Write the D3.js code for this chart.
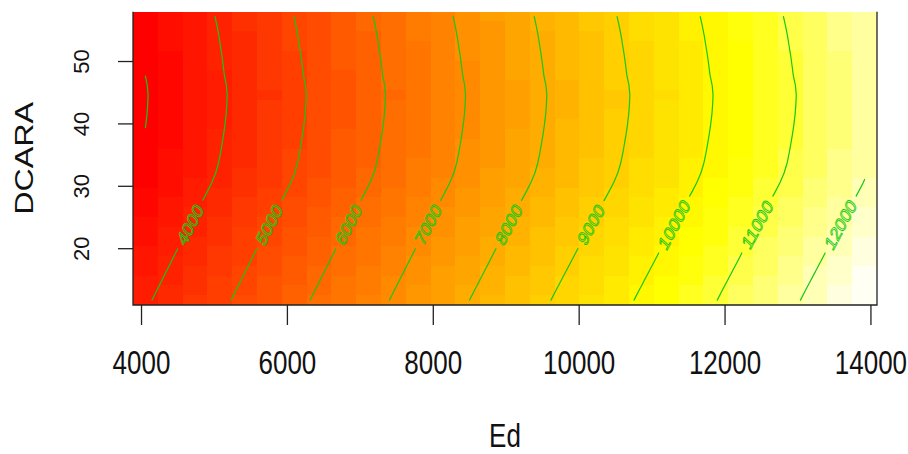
<!DOCTYPE html>
<html>
<head>
<meta charset="utf-8">
<script src="https://cdn.jsdelivr.net/npm/d3@7"></script>
<style>
  body { margin: 0; background: #fff; }
  text { font-family: "Liberation Sans", Arial, sans-serif; }
</style>
</head>
<body>
<svg id="chart" width="908" height="454"></svg>
<script>
// grid of the fitted surface (vis.gam style, 30 x 30)
const edGrid = [4060, 4400, 4740, 5080, 5420, 5760, 6100, 6440, 6780, 7120,
  7460, 7800, 8140, 8480, 8820, 9160, 9500, 9840, 10180, 10520,
  10860, 11200, 11540, 11880, 12220, 12560, 12900, 13240, 13580, 13920];
const dcaraGrid = [11.68, 13.25, 14.81, 16.38, 17.95, 19.51, 21.08, 22.65, 24.21, 25.78,
  27.35, 28.91, 30.48, 32.05, 33.61, 35.18, 36.75, 38.31, 39.88, 41.45,
  43.01, 44.58, 46.15, 47.71, 49.28, 50.85, 52.41, 53.98, 55.55, 57.12];

// fitted value along Ed (at the DCARA minimum) and the DCARA shift added to it
const fitByEd = [2965, 3278, 3592, 3905, 4219, 4533, 4847, 5160, 5473, 5786,
  6098, 6408, 6718, 7027, 7332, 7638, 7943, 8243, 8541, 8839,
  9138, 9436, 9734, 10032, 10330, 10628, 10926, 11224, 11522, 11820];
const dcaraShift = [951, 890, 828, 766, 704, 643, 580, 517, 453, 389,
  324, 259, 197, 147, 112, 87, 66, 46, 29, 15,
  6, 1, 12, 37, 52, 68, 87, 106, 129, 155];

const contourLevels = [3000, 4000, 5000, 6000, 7000, 8000, 9000, 10000, 11000, 12000];
const xTicks = [4000, 6000, 8000, 10000, 12000, 14000];
const yTicks = [20, 30, 40, 50];

const labelDcara = 23.8;
const stretch = 1.29;   // the picture is a bit taller than wide

var svg = d3.select("#chart"),
    plot = {left: 133, right: 877, top: 11.7, bottom: 305};

var halfEd = (edGrid[1] - edGrid[0]) / 2,
    halfDc = (dcaraGrid[1] - dcaraGrid[0]) / 2;

var x = d3.scaleLinear()
  .domain([edGrid[0] - halfEd, edGrid[edGrid.length - 1] + halfEd])
  .range([plot.left, plot.right]);
var y = d3.scaleLinear()
  .domain([dcaraGrid[0] - halfDc, dcaraGrid[dcaraGrid.length - 1] + halfDc])
  .range([plot.bottom, plot.top]);

// z[i][j]
var z = edGrid.map((e, i) => dcaraGrid.map((d, j) => fitByEd[i] + dcaraShift[j]));
var zAll = z.flat();
var zMin = d3.min(zAll), zMax = d3.max(zAll);

// R's heat.colors(n)
function hsv(h, s, v) {
  var i = Math.floor(h * 6), f = h * 6 - i,
      p = v * (1 - s), q = v * (1 - f * s), t = v * (1 - (1 - f) * s), r, g, b;
  switch (((i % 6) + 6) % 6) {
    case 0: r = v; g = t; b = p; break;
    case 1: r = q; g = v; b = p; break;
    case 2: r = p; g = v; b = t; break;
    case 3: r = p; g = q; b = v; break;
    case 4: r = t; g = p; b = v; break;
    default: r = v; g = p; b = q;
  }
  return d3.rgb(r * 255, g * 255, b * 255).formatHex();
}
function heatColors(n) {
  var j = Math.floor(n / 4), i = n - j, cols = [];
  for (var k = 0; k < i; k++) cols.push(hsv(i > 1 ? k / (i - 1) / 6 : 0, 1, 1));
  var s0 = 1 - 1 / (2 * j), s1 = 1 / (2 * j);
  for (var k = 0; k < j; k++) cols.push(hsv(1 / 6, j > 1 ? s0 + k * (s1 - s0) / (j - 1) : s0, 1));
  return cols;
}
var pal = heatColors(50);
function colorOf(v) {
  var k = Math.floor((pal.length - 1e-5) * (v - zMin) / (zMax - zMin) + 1e-7);
  return pal[Math.max(0, Math.min(pal.length - 1, k))];
}

// cell edges
function edges(grid, half) {
  return grid.map((g, i) => [
    i === 0 ? g - half : (grid[i - 1] + g) / 2,
    i === grid.length - 1 ? g + half : (g + grid[i + 1]) / 2
  ]);
}
var edEdges = edges(edGrid, halfEd), dcEdges = edges(dcaraGrid, halfDc);

var cells = [];
edGrid.forEach((e, i) => dcaraGrid.forEach((d, j) => cells.push({i: i, j: j, z: z[i][j]})));

svg.append("g")
  .attr("shape-rendering", "crispEdges")
  .selectAll("rect")
  .data(cells)
  .enter().append("rect")
    .attr("x", d => x(edEdges[d.i][0]))
    .attr("width", d => x(edEdges[d.i][1]) - x(edEdges[d.i][0]))
    .attr("y", d => y(dcEdges[d.j][1]))
    .attr("height", d => y(dcEdges[d.j][0]) - y(dcEdges[d.j][1]))
    .attr("fill", d => colorOf(d.z));

// marching squares on the grid
function contourSegments(L) {
  var segs = [];
  for (var i = 0; i < edGrid.length - 1; i++) {
    for (var j = 0; j < dcaraGrid.length - 1; j++) {
      var c = [[i, j], [i + 1, j], [i + 1, j + 1], [i, j + 1]], pts = [];
      for (var k = 0; k < 4; k++) {
        var p = c[k], q = c[(k + 1) % 4];
        var zp = z[p[0]][p[1]], zq = z[q[0]][q[1]];
        if ((zp >= L) !== (zq >= L)) {
          var t = (L - zp) / (zq - zp);
          pts.push([edGrid[p[0]] + t * (edGrid[q[0]] - edGrid[p[0]]),
                    dcaraGrid[p[1]] + t * (dcaraGrid[q[1]] - dcaraGrid[p[1]])]);
        }
      }
      if (pts.length >= 2) segs.push([pts[0], pts[1]]);
      if (pts.length === 4) segs.push([pts[2], pts[3]]);
    }
  }
  return segs;
}

// where a level crosses a given DCARA
function crossing(L, dc) {
  var j = d3.bisectRight(dcaraGrid, dc) - 1;
  if (j < 0 || j >= dcaraGrid.length - 1) return null;
  var t = (dc - dcaraGrid[j]) / (dcaraGrid[j + 1] - dcaraGrid[j]);
  var row = z.map(col => col[j] * (1 - t) + col[j + 1] * t);
  for (var i = 0; i < row.length - 1; i++) {
    if ((row[i] >= L) !== (row[i + 1] >= L)) {
      return edGrid[i] + (L - row[i]) / (row[i + 1] - row[i]) * (edGrid[i + 1] - edGrid[i]);
    }
  }
  return null;
}

var labels = [];
contourLevels.forEach(L => {
  var e = crossing(L, labelDcara),
      e1 = crossing(L, labelDcara - 2),
      e2 = crossing(L, labelDcara + 2);
  if (e == null || e1 == null || e2 == null) return;
  var dx = x(e2) - x(e1), dy = (y(labelDcara + 2) - y(labelDcara - 2)) / stretch;
  if (dx < 0) { dx = -dx; dy = -dy; }
  labels.push({
    level: L,
    cx: x(e), cy: y(labelDcara),
    angle: Math.atan2(dy, dx) * 180 / Math.PI
  });
});
function labelTransform(d) {
  return "translate(" + d.cx + "," + d.cy + ") scale(1," + stretch + ") rotate(" + d.angle + ")";
}

var defs = svg.append("defs");
defs.append("clipPath").attr("id", "plotclip")
  .append("rect")
    .attr("x", plot.left).attr("y", plot.top)
    .attr("width", plot.right - plot.left).attr("height", plot.bottom - plot.top);

var mask = defs.append("mask").attr("id", "gaps")
  .attr("maskUnits", "userSpaceOnUse")
  .attr("x", 0).attr("y", 0).attr("width", 908).attr("height", 454);
mask.append("rect").attr("width", 908).attr("height", 454).attr("fill", "#fff");

var labelSize = 15.5;
mask.selectAll(".gap")
  .data(labels)
  .enter().append("rect")
    .attr("class", "gap")
    .attr("transform", labelTransform)
    .attr("x", d => -(String(d.level).length * 0.556 * labelSize) / 2 - 5)
    .attr("width", d => String(d.level).length * 0.556 * labelSize + 10)
    .attr("y", -8).attr("height", 16)
    .attr("fill", "#000");

var lineColor = "#14c814";

svg.append("g")
  .attr("clip-path", "url(#plotclip)")
  .append("g")
  .attr("mask", "url(#gaps)")
  .selectAll("path")
  .data(contourLevels)
  .enter().append("path")
    .attr("d", L => contourSegments(L).map(s =>
      "M" + x(s[0][0]) + "," + y(s[0][1]) + "L" + x(s[1][0]) + "," + y(s[1][1])).join(""))
    .attr("fill", "none")
    .attr("stroke", lineColor)
    .attr("stroke-width", 1.2)
    .attr("stroke-linecap", "round");

svg.append("g").selectAll("text")
  .data(labels)
  .enter().append("text")
    .attr("transform", labelTransform)
    .attr("text-anchor", "middle")
    .attr("dy", "0.36em")
    .attr("font-size", labelSize)
    .attr("fill", "none")
    .attr("stroke", lineColor)
    .attr("stroke-width", 0.75)
    .text(d => d.level);

// frame (left, bottom, right)
var ink = "#222";
svg.append("path")
  .attr("d", "M" + plot.left + "," + plot.top + "V" + plot.bottom + "H" + plot.right + "V" + plot.top)
  .attr("fill", "none").attr("stroke", ink).attr("stroke-width", 1.3);

// axes
var gx = svg.append("g")
  .attr("transform", "translate(0," + plot.bottom + ")")
  .call(d3.axisBottom(x).tickValues(xTicks).tickSize(20).tickSizeOuter(0).tickFormat(d3.format("d")));
gx.select(".domain").remove();
gx.selectAll(".tick line").attr("stroke", ink).attr("stroke-width", 1.3);
gx.selectAll(".tick text")
  .attr("y", 0).attr("dy", 0)
  .attr("transform", "translate(0,69) scale(1," + stretch + ")")
  .attr("font-size", 26)
  .attr("font-family", "'Liberation Sans', Arial, sans-serif")
  .attr("fill", "#111");

var gy = svg.append("g")
  .attr("transform", "translate(" + plot.left + ",0)")
  .call(d3.axisLeft(y).tickValues(yTicks).tickSize(15).tickSizeOuter(0));
gy.select(".domain").remove();
gy.selectAll(".tick line").attr("stroke", ink).attr("stroke-width", 1.3);
gy.selectAll(".tick text")
  .attr("x", 0).attr("y", 0).attr("dy", 0)
  .attr("transform", "translate(-44,0) rotate(-90)")
  .attr("text-anchor", "middle")
  .attr("font-size", 22)
  .attr("font-family", "'Liberation Sans', Arial, sans-serif")
  .attr("fill", "#111");

// axis titles
svg.append("text")
  .attr("transform", "translate(" + (plot.left + plot.right) / 2 + ",447) scale(1," + stretch + ")")
  .attr("text-anchor", "middle")
  .attr("font-size", 26)
  .attr("fill", "#111")
  .text("Ed");

svg.append("text")
  .attr("transform", "translate(33," + (plot.top + plot.bottom) / 2 + ") rotate(-90) scale(" + stretch + ",1)")
  .attr("text-anchor", "middle")
  .attr("font-size", 25)
  .attr("fill", "#111")
  .text("DCARA");
</script>
</body>
</html>
